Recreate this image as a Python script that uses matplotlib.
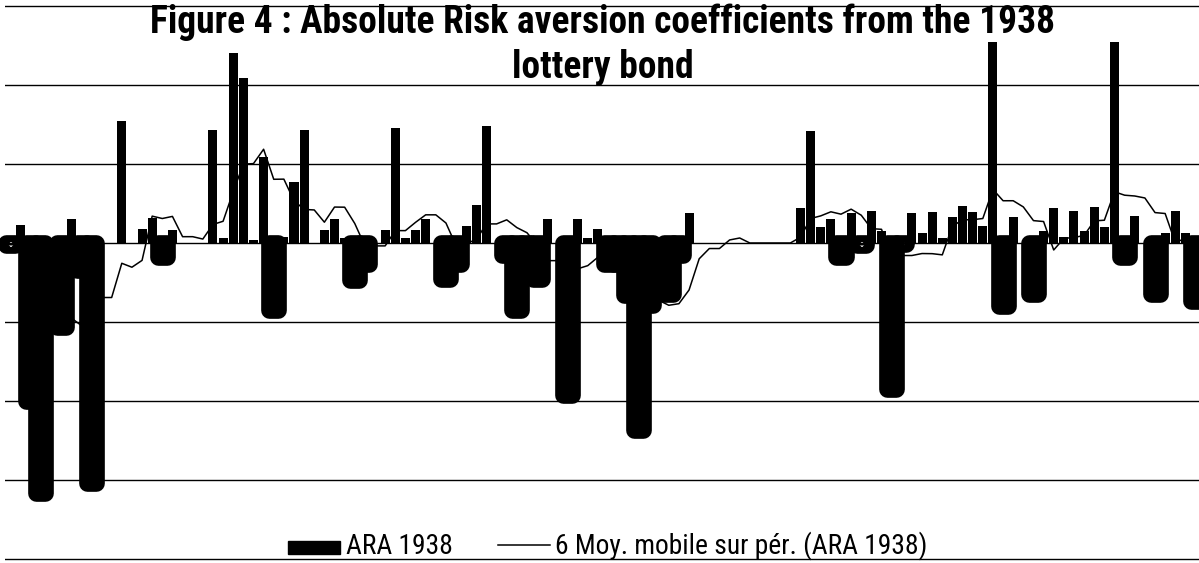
import numpy as np
import pandas as pd
import matplotlib
matplotlib.use("Agg")
import matplotlib.pyplot as plt
from matplotlib.patches import Rectangle
from matplotlib.lines import Line2D
from matplotlib import font_manager


def pick_font(cands, weight):
    have = {}
    for f in font_manager.fontManager.ttflist:
        w = f.weight if isinstance(f.weight, int) else 400
        have.setdefault(f.name, set()).add(w)
    for c in cands:
        if c in have and (weight < 600 or max(have[c]) >= 600):
            return c
    return 'DejaVu Sans'


narrow = ['Roboto Condensed', 'PT Sans Narrow', 'Arimo', 'Asap Condensed',
          'Fira Sans Condensed', 'Archivo Narrow', 'Saira SemiCondensed']
bold_font = pick_font(narrow, 700)
reg_font = pick_font(narrow, 400)
plt.rcParams['font.family'] = [reg_font, 'DejaVu Sans']

# ARA 1938 values, one per lottery draw
ara = [-0.03, 0.23, -2.0, -3.16, 0, -1.06, 0.30, -0.34, -3.04, 0,
       0, 1.54, 0, 0.18, 0.32, -0.18, 0.16, 0, 0, 0,
       1.43, 0.06, 2.41, 2.09, 0.04, 1.09, -0.85, 0.07, 0.77, 1.43,
       0, 0.16, 0.30, 0.06, -0.47, -0.27, 0, 0.16, 1.46, 0.06,
       0.16, 0.30, 0, -0.46, -0.26, 0.21, 0.48, 1.48, 0, -0.15,
       -0.85, -0.18, -0.46, 0.30, 0, -1.92, 0.30, 0.06, 0.18, -0.27,
       -0.27, -0.66, -2.37, -0.78, 0, -0.65, -0.15, 0.38, 0, 0,
       0, 0, 0, 0, 0, 0, 0, 0, 0.44, 1.42,
       0.20, 0.31, -0.18, 0.38, -0.02, 0.40, 0.15, -1.85, -0.01, 0.38,
       0.13, 0.39, 0.06, 0.33, 0.47, 0.39, 0.22, 2.6, -0.80, 0.33,
       0, -0.65, 0.15, 0.44, 0.08, 0.40, 0.15, 0.46, 0.20, 2.6,
       -0.18, 0.34, 0, -0.65, 0.13, 0.40, 0.13, -0.73]
ara = np.array(ara)
x = np.arange(len(ara))
ma6 = pd.Series(ara).rolling(6).mean()

title1 = "Figure 4 : Absolute Risk aversion coefficients from the 1938"
title2 = "lottery bond"
leg_bar = "ARA 1938"
leg_line = "6 Moy. mobile sur pér. (ARA 1938)"

W, H = 1199, 563
fig = plt.figure(figsize=(W / 100, H / 100), dpi=100)
ax = fig.add_axes([5.3 / W, 0, 1195.3 / W, 1])
ax.set_xlim(-0.5, len(ara) - 0.5)
ax.set_ylim(-(563 - 243) / 79, 243 / 79)

for g in range(-4, 4):
    ax.axhline(g, color='black', lw=1.0, zorder=0)

neg = ara < 0
lw = np.where(neg, 12.0, 0.0)
bars = ax.bar(x, ara, width=0.89, color='black', edgecolor='black',
              linewidth=lw, joinstyle='round', zorder=2)
# the plot area stops a bit under the top gridline, tall bars get cut there
clip = Rectangle((-1, -5), len(ara) + 2, 5 + 2.54, transform=ax.transData)
for b in bars:
    b.set_clip_path(clip)

ax.plot(x, ma6, color='black', lw=1.1, zorder=3)

ax.axis('off')

t1 = fig.text(603 / W, 1 - 33 / H, title1, ha='center', va='baseline',
              fontsize=23, fontweight='bold', family=[bold_font, 'DejaVu Sans'])
t2 = fig.text(603 / W, 1 - 78 / H, title2, ha='center', va='baseline',
              fontsize=23, fontweight='bold', family=[bold_font, 'DejaVu Sans'])

# legend drawn by hand, Excel style
fig.patches.append(Rectangle((288 / W, 1 - 554 / H), 52 / W, 13 / H,
                             transform=fig.transFigure, color='black'))
t3 = fig.text(346 / W, 1 - 554 / H, leg_bar, ha='left', va='baseline', fontsize=17)
fig.lines.append(Line2D([498 / W, 550 / W], [1 - 545 / H, 1 - 545 / H],
                        transform=fig.transFigure, color='black', lw=1.1))
t4 = fig.text(555 / W, 1 - 554 / H, leg_line, ha='left', va='baseline', fontsize=17)

# size the texts so their widths match the original layout
fig.canvas.draw()
r = fig.canvas.get_renderer()
w1 = t1.get_window_extent(r).width
s = 23 * 908 / w1
t1.set_fontsize(s)
t2.set_fontsize(s)
w4 = t4.get_window_extent(r).width
s4 = 17 * 372 / w4
t3.set_fontsize(s4)
t4.set_fontsize(s4)

fig.savefig('out.png', dpi=100)
